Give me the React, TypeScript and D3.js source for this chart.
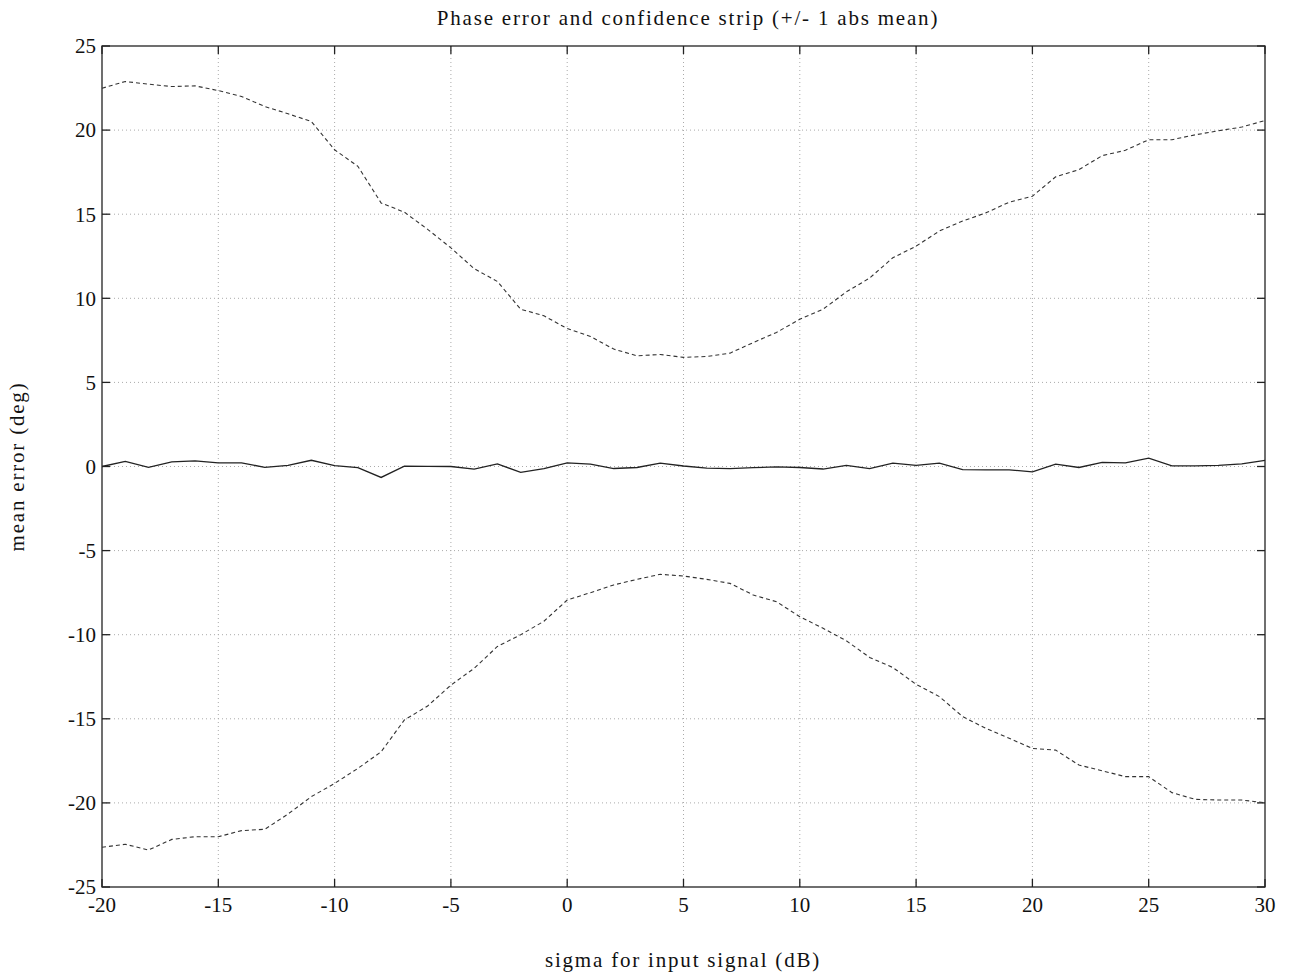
import React, { useRef, useEffect } from 'react';
import * as d3 from 'd3';

// sigma (dB) from -20 to 30 in 1 dB steps
const sigma = [
  -20, -19, -18, -17, -16, -15, -14, -13, -12, -11, -10, -9, -8, -7, -6, -5, -4, -3, -2, -1,
  0, 1, 2, 3, 4, 5, 6, 7, 8, 9, 10, 11, 12, 13, 14, 15, 16, 17, 18, 19,
  20, 21, 22, 23, 24, 25, 26, 27, 28, 29, 30,
];

const meanError = [
  0.0, 0.3, -0.05, 0.27, 0.34, 0.22, 0.22, -0.05, 0.07, 0.37, 0.05, -0.07, -0.65, 0.02, 0.01, 0.0, -0.15, 0.15, -0.35, -0.12,
  0.22, 0.14, -0.12, -0.06, 0.2, 0.03, -0.1, -0.13, -0.07, -0.02, -0.06, -0.15, 0.07, -0.13, 0.2, 0.07, 0.2, -0.18, -0.2, -0.2,
  -0.32, 0.14, -0.06, 0.25, 0.22, 0.5, 0.04, 0.04, 0.07, 0.16, 0.37,
];

const upperStrip = [
  22.49, 22.89, 22.73, 22.59, 22.63, 22.35, 22.0, 21.4, 20.97, 20.51, 18.83, 17.85, 15.67, 15.12, 14.1, 13.0, 11.76, 11.0, 9.35, 8.96,
  8.2, 7.73, 6.98, 6.58, 6.66, 6.49, 6.54, 6.74, 7.37, 7.97, 8.76, 9.35, 10.38, 11.2, 12.41, 13.1, 14.0, 14.59, 15.08, 15.71,
  16.07, 17.22, 17.65, 18.48, 18.8, 19.43, 19.43, 19.72, 19.96, 20.18, 20.57,
];

const lowerStrip = [
  -22.64, -22.46, -22.8, -22.17, -22.01, -22.01, -21.65, -21.57, -20.66, -19.63, -18.84, -17.95, -16.96, -15.07, -14.24, -13.0, -12.0, -10.7, -10.0, -9.2,
  -7.94, -7.5, -7.04, -6.71, -6.41, -6.51, -6.71, -6.95, -7.64, -8.04, -8.93, -9.62, -10.36, -11.35, -11.95, -12.95, -13.68, -14.87, -15.57, -16.16,
  -16.76, -16.86, -17.75, -18.09, -18.44, -18.44, -19.39, -19.79, -19.83, -19.83, -19.99,
];

const xTicks = [-20, -15, -10, -5, 0, 5, 10, 15, 20, 25, 30];
const yTicks = [-25, -20, -15, -10, -5, 0, 5, 10, 15, 20, 25];

const App = () => {
  const svgRef = useRef<SVGSVGElement | null>(null);

  useEffect(() => {
    const width = 1293;
    const height = 975;
    const left = 102;
    const right = 1265;
    const top = 46;
    const bottom = 887;
    const font = '"Liberation Serif", "DejaVu Serif", serif';

    const svg = d3.select(svgRef.current)
      .attr('width', width)
      .attr('height', height)
      .style('background', '#fff');
    svg.selectAll('*').remove();

    const x = d3.scaleLinear().domain([-20, 30]).range([left, right]);
    const y = d3.scaleLinear().domain([-25, 25]).range([bottom, top]);

    // grid
    const grid = svg.append('g')
      .attr('stroke', '#aaa')
      .attr('stroke-width', 1)
      .attr('stroke-dasharray', '1,3');
    grid.selectAll('.gx')
      .data(xTicks.slice(1, -1))
      .enter()
      .append('line')
      .attr('x1', d => x(d))
      .attr('x2', d => x(d))
      .attr('y1', top)
      .attr('y2', bottom);
    grid.selectAll('.gy')
      .data(yTicks.slice(1, -1))
      .enter()
      .append('line')
      .attr('x1', left)
      .attr('x2', right)
      .attr('y1', d => y(d))
      .attr('y2', d => y(d));

    // frame
    svg.append('rect')
      .attr('x', left)
      .attr('y', top)
      .attr('width', right - left)
      .attr('height', bottom - top)
      .attr('fill', 'none')
      .attr('stroke', '#222')
      .attr('stroke-width', 1.3);

    // inward ticks on all sides
    const tl = 8;
    const ticks = svg.append('g').attr('stroke', '#222').attr('stroke-width', 1.3);
    xTicks.forEach(t => {
      ticks.append('line').attr('x1', x(t)).attr('x2', x(t)).attr('y1', bottom).attr('y2', bottom - tl);
      ticks.append('line').attr('x1', x(t)).attr('x2', x(t)).attr('y1', top).attr('y2', top + tl);
    });
    yTicks.forEach(t => {
      ticks.append('line').attr('x1', left).attr('x2', left + tl).attr('y1', y(t)).attr('y2', y(t));
      ticks.append('line').attr('x1', right).attr('x2', right - tl).attr('y1', y(t)).attr('y2', y(t));
    });

    // tick labels
    svg.append('g')
      .selectAll('text')
      .data(xTicks)
      .enter()
      .append('text')
      .attr('x', d => x(d))
      .attr('y', bottom + 25)
      .attr('text-anchor', 'middle')
      .style('font-family', font)
      .style('font-size', '21px')
      .style('fill', '#111')
      .text(d => d);

    svg.append('g')
      .selectAll('text')
      .data(yTicks)
      .enter()
      .append('text')
      .attr('x', left - 6)
      .attr('y', d => y(d))
      .attr('dy', '0.35em')
      .attr('text-anchor', 'end')
      .style('font-family', font)
      .style('font-size', '21px')
      .style('fill', '#111')
      .text(d => d);

    // curves
    const line = d3.line<number>()
      .x((d, i) => x(sigma[i]))
      .y(d => y(d));

    svg.append('path')
      .attr('d', line(upperStrip))
      .attr('fill', 'none')
      .attr('stroke', '#333')
      .attr('stroke-width', 1.1)
      .attr('stroke-dasharray', '4,3');

    svg.append('path')
      .attr('d', line(lowerStrip))
      .attr('fill', 'none')
      .attr('stroke', '#333')
      .attr('stroke-width', 1.1)
      .attr('stroke-dasharray', '4,3');

    svg.append('path')
      .attr('d', line(meanError))
      .attr('fill', 'none')
      .attr('stroke', '#222')
      .attr('stroke-width', 1.3);

    // title and axis labels
    svg.append('text')
      .attr('x', 688)
      .attr('y', 25)
      .attr('text-anchor', 'middle')
      .style('font-family', font)
      .style('font-size', '21px')
      .style('letter-spacing', '1.8px')
      .style('fill', '#111')
      .text('Phase error and confidence strip (+/- 1 abs mean)');

    svg.append('text')
      .attr('x', 683)
      .attr('y', 967)
      .attr('text-anchor', 'middle')
      .style('font-family', font)
      .style('font-size', '21px')
      .style('letter-spacing', '1.8px')
      .style('fill', '#111')
      .text('sigma for input signal (dB)');

    svg.append('text')
      .attr('transform', `translate(24, ${y(0)}) rotate(-90)`)
      .attr('text-anchor', 'middle')
      .style('font-family', font)
      .style('font-size', '21px')
      .style('letter-spacing', '1.8px')
      .style('fill', '#111')
      .text('mean error (deg)');
  }, []);

  return (
    <svg ref={svgRef} style={{ position: 'absolute', left: 0, top: 0 }}></svg>
  );
};

export default App;
